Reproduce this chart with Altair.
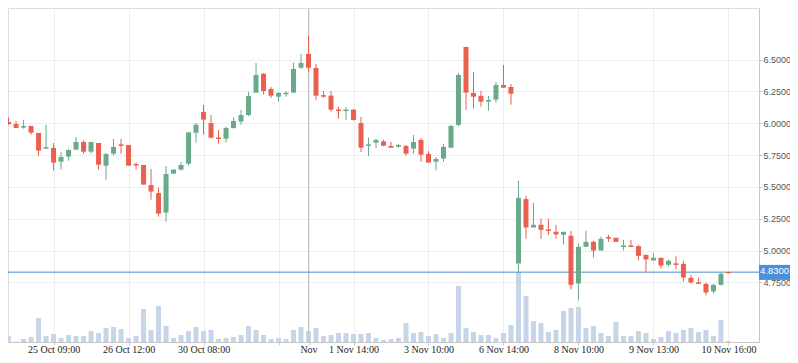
import altair as alt
import pandas as pd

# ---- data ----
idx = list(range(97))
opens = [6.010, 5.994, 5.966, 5.979, 5.924, 5.800, 5.806, 5.698, 5.738, 5.793,
         5.853, 5.777, 5.845, 5.667, 5.761, 5.835, 5.829, 5.680, 5.672, 5.515,
         5.452, 5.298, 5.604, 5.636, 5.683, 5.926, 6.089, 6.002, 5.888, 5.879,
         5.963, 6.013, 6.065, 6.241, 6.390, 6.270, 6.209, 6.228, 6.241, 6.437,
         6.545, 6.435, 6.221, 6.217, 6.108, 6.096, 6.107, 6.002, 5.822, 5.848,
         5.858, 5.822, 5.816, 5.822, 5.801, 5.869, 5.759, 5.698, 5.722, 5.808,
         5.987, 6.600, 6.238, 6.215, 6.170, 6.186, 6.301, 6.285, 4.898, 5.404,
         5.181, 5.202, 5.166, 5.147, 5.123, 5.116, 4.741, 5.029, 5.068, 5.000,
         5.106, 5.100, 5.028, 5.040, 5.034, 4.966, 4.922, 4.943, 4.888, 4.899,
         4.895, 4.785, 4.750, 4.738, 4.678, 4.730, 4.832]
highs = [6.047, 6.018, 6.026, 5.979, 5.924, 5.987, 5.845, 5.774, 5.798, 5.892,
         5.866, 5.853, 5.845, 5.764, 5.877, 5.877, 5.829, 5.691, 5.672, 5.641,
         5.494, 5.664, 5.636, 5.696, 5.929, 6.002, 6.144, 6.065, 5.947, 5.974,
         6.047, 6.105, 6.246, 6.474, 6.395, 6.285, 6.246, 6.251, 6.477, 6.545,
         6.686, 6.466, 6.254, 6.254, 6.131, 6.128, 6.112, 6.050, 5.887, 5.879,
         5.871, 5.853, 5.837, 5.829, 5.908, 5.884, 5.782, 5.735, 5.837, 5.987,
         6.395, 6.600, 6.403, 6.254, 6.215, 6.325, 6.458, 6.309, 5.548, 5.430,
         5.375, 5.249, 5.249, 5.202, 5.147, 5.155, 5.053, 5.155, 5.076, 5.108,
         5.123, 5.100, 5.084, 5.084, 5.045, 4.966, 4.982, 4.943, 4.930, 4.958,
         4.919, 4.809, 4.785, 4.746, 4.738, 4.825, 4.832]
lows = [5.987, 5.963, 5.958, 5.911, 5.746, 5.800, 5.628, 5.636, 5.706, 5.793,
        5.761, 5.761, 5.636, 5.557, 5.746, 5.761, 5.667, 5.636, 5.518, 5.400,
        5.266, 5.227, 5.604, 5.628, 5.667, 5.848, 5.911, 5.879, 5.840, 5.848,
        5.958, 5.989, 6.057, 6.241, 6.225, 6.199, 6.170, 6.209, 6.241, 6.427,
        6.406, 6.183, 6.201, 6.091, 6.036, 6.026, 6.021, 5.774, 5.743, 5.806,
        5.819, 5.808, 5.808, 5.746, 5.761, 5.698, 5.691, 5.628, 5.698, 5.808,
        5.979, 6.105, 6.115, 6.131, 6.099, 6.162, 6.280, 6.146, 4.827, 5.092,
        5.181, 5.092, 5.123, 5.092, 5.047, 4.694, 4.607, 5.029, 4.945, 5.000,
        5.068, 5.068, 5.000, 5.026, 4.922, 4.827, 4.922, 4.859, 4.874, 4.851,
        4.757, 4.741, 4.736, 4.647, 4.662, 4.725, 4.819]
closes = [5.994, 5.963, 5.979, 5.926, 5.785, 5.812, 5.691, 5.735, 5.790, 5.853,
          5.777, 5.853, 5.675, 5.759, 5.814, 5.823, 5.667, 5.668, 5.518, 5.463,
          5.290, 5.601, 5.636, 5.672, 5.929, 5.989, 6.029, 5.887, 5.876, 5.963,
          6.018, 6.065, 6.215, 6.380, 6.254, 6.217, 6.238, 6.240, 6.427, 6.474,
          6.437, 6.217, 6.209, 6.107, 6.096, 6.108, 6.026, 5.808, 5.834, 5.869,
          5.824, 5.808, 5.829, 5.761, 5.853, 5.753, 5.691, 5.719, 5.814, 5.979,
          6.380, 6.241, 6.209, 6.170, 6.183, 6.301, 6.280, 6.233, 5.414, 5.181,
          5.202, 5.163, 5.154, 5.126, 5.147, 4.730, 5.029, 5.068, 5.000, 5.092,
          5.094, 5.068, 5.040, 5.028, 4.958, 4.930, 4.943, 4.882, 4.919, 4.887,
          4.788, 4.749, 4.738, 4.670, 4.730, 4.817, 4.822]
volumes = [60, 5, 30, 50, 240, 60, 80, 40, 70, 60,
           60, 110, 90, 140, 150, 130, 40, 60, 330, 120,
           360, 160, 40, 70, 110, 150, 110, 120, 30, 40,
           50, 70, 160, 120, 70, 30, 40, 30, 120, 150,
           110, 140, 60, 70, 90, 90, 80, 80, 90, 40,
           20, 30, 40, 190, 90, 100, 60, 80, 40, 90,
           560, 140, 100, 70, 70, 40, 90, 170, 700, 460,
           210, 190, 100, 120, 310, 340, 350, 140, 160, 90,
           60, 200, 60, 60, 110, 90, 30, 50, 110, 90,
           120, 140, 100, 120, 60, 220, 10]

tick_idx = [6, 16, 26, 36, 40, 46, 56, 66, 76, 86, 96]
tick_labels = ["25 Oct 09:00", "26 Oct 12:00", "30 Oct 08:00", "", "Nov",
               "1 Nov 14:00", "3 Nov 10:00", "6 Nov 14:00", "8 Nov 10:00",
               "9 Nov 13:00", "10 Nov 16:00"]
price_ticks = [4.75, 5.0, 5.25, 5.5, 5.75, 6.0, 6.25, 6.5]
last_price = 4.83
month_idx = 40

# ---- styling ----
GREEN = "#68aa8a"
RED = "#ea5f4e"
VOL = "#c6d6e8"
BLUE = "#4a8ad4"
GRID = "#ededed"
AXIS = "#c8c8c8"

W, H = 751, 334
x_dom = [0.592, 99.408]
y_dom = [4.281, 6.906]
vol_dom = [0, 3340]

df = pd.DataFrame({"i": idx, "open": opens, "high": highs, "low": lows,
                   "close": closes, "volume": volumes})
df["dir"] = ["up" if c >= o else "down" for o, c in zip(opens, closes)]

label_expr = " : ".join(f"datum.value == {v} ? '{t}'" for v, t in zip(tick_idx, tick_labels)) + " : ''"

x_enc = alt.X("i:Q",
              scale=alt.Scale(domain=x_dom, nice=False, zero=False),
              axis=alt.Axis(values=tick_idx, labelExpr=label_expr, title=None,
                            grid=True, gridColor=GRID, domainColor=AXIS,
                            tickColor=AXIS, tickSize=3, labelFont="Liberation Serif",
                            labelFontSize=10, labelColor="#222222",
                            labelBaseline="alphabetic", labelPadding=7.3,
                            labelOverlap=False, labelFlush=False))

y_scale = alt.Scale(domain=y_dom, nice=False, zero=False)
y_axis = alt.Axis(values=price_ticks, format=".4f", orient="right", title=None,
                  grid=True, gridColor=GRID, domainColor=AXIS, tickColor=AXIS,
                  tickSize=3, labelFont="Liberation Sans", labelFontSize=9,
                  labelColor="#555555", labelPadding=1)

color_enc = alt.Color("dir:N", scale=alt.Scale(domain=["up", "down"], range=[GREEN, RED]),
                      legend=None)

vol = alt.Chart(df).mark_bar(size=5, color=VOL, clip=True, orient="vertical").encode(
    x=x_enc,
    y=alt.Y("volume:Q", scale=alt.Scale(domain=vol_dom, nice=False), axis=None),
)

month_df = pd.DataFrame({"i": [month_idx]})
month_rule = alt.Chart(month_df).mark_rule(color="#c4c4c4", strokeWidth=1).encode(x=x_enc)

lp = pd.DataFrame({"p": [last_price]})
price_line = alt.Chart(lp).mark_rule(color=BLUE, strokeWidth=1).encode(
    y=alt.Y("p:Q", scale=y_scale, axis=y_axis)
)

wicks = alt.Chart(df).mark_rule(strokeWidth=1, clip=True).encode(
    x=x_enc,
    y=alt.Y("low:Q", scale=y_scale, axis=y_axis),
    y2="high:Q",
    color=color_enc,
)
bodies = alt.Chart(df).mark_bar(size=5, clip=True).encode(
    x=x_enc,
    y=alt.Y("open:Q", scale=y_scale, axis=y_axis),
    y2="close:Q",
    color=color_enc,
)

box = alt.Chart(lp).transform_calculate(
    top="datum.p + 0.057", bot="datum.p - 0.061"
).mark_rect(color="#4a8fd9").encode(
    x=alt.value(751), x2=alt.value(782),
    y=alt.Y("top:Q", scale=y_scale, axis=y_axis), y2="bot:Q",
)
box_text = alt.Chart(lp).mark_text(align="left", baseline="middle", color="white",
                                   font="Liberation Sans", fontSize=9.5, dy=-1).encode(
    x=alt.value(752),
    y=alt.Y("p:Q", scale=y_scale, axis=y_axis),
    text=alt.Text("p:Q", format=".4f"),
)

price_layer = alt.layer(month_rule, price_line, wicks, bodies, box, box_text)

chart = alt.layer(vol, price_layer).resolve_scale(y="independent").properties(
    width=W, height=H,
    autosize=alt.AutoSizeParams(type="none"),
    padding={"left": 0, "top": 0, "right": 31, "bottom": 13},
).configure_view(strokeWidth=0).configure(background="white")

chart.save("out.html", embed_options={"renderer": "svg", "actions": False})
